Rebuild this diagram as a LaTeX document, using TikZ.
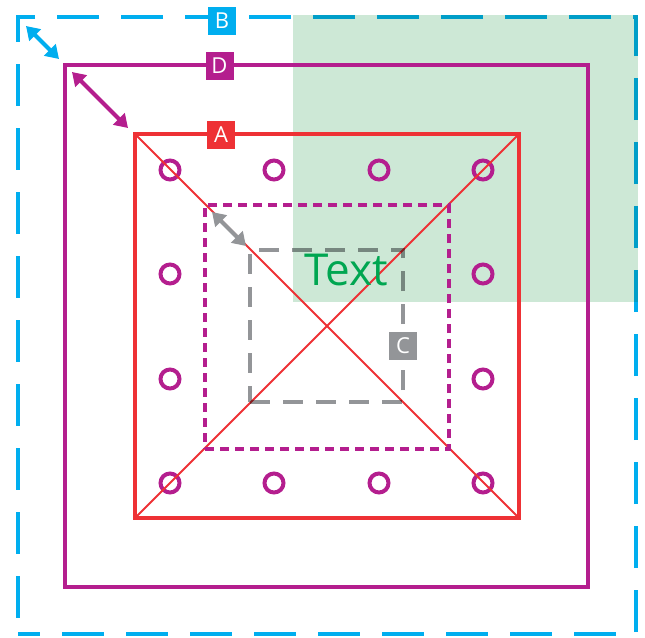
\documentclass[tikz,border=0pt]{standalone}
\usepackage{fontspec}
\setmainfont{Open Sans}
\usetikzlibrary{arrows.meta}
\definecolor{cblue}{HTML}{00AEEF}
\definecolor{cpurple}{HTML}{B41E8E}
\definecolor{cred}{HTML}{EE3135}
\definecolor{cgray}{HTML}{939598}
\definecolor{cgreenfill}{HTML}{CDE8D6}
\definecolor{cgreen}{HTML}{00A651}
\tikzset{
  frame/.style={draw, inner sep=0pt, outer sep=0pt, rectangle},
  lab/.style={inner sep=0pt, outer sep=0pt, minimum width=28pt, minimum height=28pt, text=white, font=\fontsize{22}{22}\selectfont},
  ring/.style={draw=cpurple, line width=4pt, circle, inner sep=0pt, outer sep=0pt, minimum size=19pt},
  dbl/.style={line width=4pt, {Triangle[length=13pt,width=16pt]}-{Triangle[length=13pt,width=16pt]}},
}
\begin{document}
\begin{tikzpicture}[x=1pt,y=-1pt]
\useasboundingbox (0,0) rectangle (645,637);
% green area
\fill[cgreenfill] (293,15) rectangle (638,302);
% B
\begin{scope}[blend mode=multiply]
\node[frame, draw=cblue, line width=4pt, dash pattern=on 42pt off 22pt, dash phase=20pt, minimum width=618pt, minimum height=617pt] (B) at (327,325.5) {};
\end{scope}
% D
\node[frame, draw=cpurple, line width=4.5pt, minimum width=523pt, minimum height=522pt] (D) at (326.5,326) {};
% circles
\foreach \i/\x/\y in {1/170/170,2/274/170,3/379/170,4/483/170,
                      5/170/274,6/483/274,7/170/379,8/483/379,
                      9/170/483,10/274/483,11/379/483,12/483/483}
  \node[ring] (c\i) at (\x,\y) {};
% A
\node[frame, draw=cred, line width=4.5pt, minimum width=384pt, minimum height=384pt] (A) at (327,326) {};
\draw[cred, line width=2pt] (A.north west) -- (A.south east);
\draw[cred, line width=2pt] (A.south west) -- (A.north east);
% dotted purple
\node[frame, draw=cpurple, line width=4pt, dash pattern=on 9pt off 6pt, minimum width=244pt, minimum height=244pt] (E) at (327,327) {};
% C
\begin{scope}[blend mode=multiply]
\node[frame, draw=cgray, line width=4pt, dash pattern=on 20pt off 13pt, minimum width=153pt, minimum height=152pt] (C) at (326.5,326) {};
\end{scope}
% labels
\node[lab, fill=cblue] (labB) at (222,21) {B};
\node[lab, fill=cpurple] (labD) at (219.5,65.5) {D};
\node[lab, fill=cred] (labA) at (221,134.5) {A};
\node[lab, fill=cgray] (labC) at (403,346) {C};
% arrows
\draw[dbl, cblue] ([shift={(8,9)}]B.north west) -- ([shift={(-6,-6)}]D.north west);
\draw[dbl, cpurple] ([shift={(7,7)}]D.north west) -- ([shift={(-7,-6)}]A.north west);
\draw[dbl, cgray] ([shift={(7,7)}]E.north west) -- ([shift={(-4,-4)}]C.north west);
% text
\node[text=cgreen, font=\fontsize{44}{44}\selectfont, inner sep=0pt] (T) at (346,270) {Text};
\end{tikzpicture}
\end{document}
